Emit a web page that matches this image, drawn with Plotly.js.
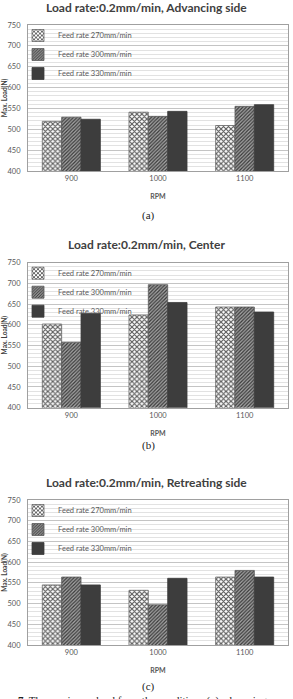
<!DOCTYPE html>
<html>
<head>
<meta charset="utf-8">
<script src="https://cdn.plot.ly/plotly-3.0.1.min.js"></script>
<style>
  html, body { margin: 0; padding: 0; background: #ffffff; }
  #chart { width: 293px; height: 699px; }
</style>
</head>
<body>
<div id="chart"></div>
<script>
// Spindle speeds on the x axis
const rpm = ['900', '1000', '1100'];

// Feed-rate series names
const seriesNames = ['Feed rate 270mm/min', 'Feed rate 300mm/min', 'Feed rate 330mm/min'];

// Maximum load (N), advancing side
const advFeed270 = [519, 541, 509];
const advFeed300 = [529, 531, 555];
const advFeed330 = [524, 543, 559];

// Maximum load (N), center
const cenFeed270 = [602, 624, 643];
const cenFeed300 = [558, 697, 643];
const cenFeed330 = [628, 654, 631];

// Maximum load (N), retreating side
const retFeed270 = [545, 532, 564];
const retFeed300 = [564, 497, 580];
const retFeed330 = [545, 561, 564];

const panelTitles = [
  'Load rate:0.2mm/min, Advancing side',
  'Load rate:0.2mm/min, Center',
  'Load rate:0.2mm/min, Retreating side'
];
const panelCaptions = ['(a)', '(b)', '(c)'];

const yTicks = [400, 450, 500, 550, 600, 650, 700, 750];

const W = 293, H = 699;
const py = px => 1 - px / H;

// plot-area pixel extents of each panel (top, bottom) and caption line
const panels = [
  { top: 25,    bottom: 171,   capY: 215 },
  { top: 262.7, bottom: 407.7, capY: 445 },
  { top: 500,   bottom: 645,   capY: 686 }
];

const panelData = [
  [advFeed270, advFeed300, advFeed330],
  [cenFeed270, cenFeed300, cenFeed330],
  [retFeed270, retFeed300, retFeed330]
];

// fill styles per feed rate
const markerStyles = [
  { color: '#ffffff', line: { color: '#6a6a6a', width: 0.8 },
    pattern: { shape: 'x', fgcolor: '#5c5c5c', bgcolor: '#ffffff', size: 3.5, solidity: 0.55 } },
  { color: '#8a8a8a', line: { color: '#5a5a5a', width: 0.8 },
    pattern: { shape: '/', fgcolor: '#3a3a3a', bgcolor: '#a8a8a8', size: 2.5, solidity: 0.5 } },
  { color: '#3d3d3d', line: { color: '#3d3d3d', width: 0.8 } }
];

const fontSans = 'Lato, "Open Sans", sans-serif';
const traces = [];
const layout = {
  width: W, height: H,
  margin: { l: 0, r: 0, t: 0, b: 0 },
  paper_bgcolor: '#ffffff',
  plot_bgcolor: '#ffffff',
  barmode: 'group',
  bargap: 0.33,
  bargroupgap: 0,
  showlegend: true,
  font: { family: fontSans, color: '#595959', size: 8 },
  annotations: []
};

panels.forEach((p, i) => {
  const n = i === 0 ? '' : String(i + 1);
  const legendName = 'legend' + n;
  panelData[i].forEach((vals, s) => {
    traces.push({
      type: 'bar',
      x: rpm,
      y: vals,
      name: seriesNames[s],
      xaxis: 'x' + n,
      yaxis: 'y' + n,
      legend: legendName,
      marker: markerStyles[s],
      hoverinfo: 'x+y+name'
    });
  });

  layout['xaxis' + n] = {
    domain: [28 / W, 288 / W],
    anchor: 'y' + n,
    type: 'category',
    showgrid: false,
    showline: true, linecolor: '#a0a0a0', linewidth: 1, mirror: true,
    ticks: '', tickfont: { size: 7.5, color: '#595959', family: fontSans },
    title: { text: '<b>RPM</b>', font: { size: 7, color: '#595959', family: fontSans }, standoff: 12 },
    fixedrange: true
  };
  layout['yaxis' + n] = {
    domain: [py(p.bottom), py(p.top)],
    anchor: 'x' + n,
    range: [400, 750],
    tickvals: yTicks,
    showgrid: true, gridcolor: '#c4c4c4', gridwidth: 1,
    minor: { dtick: 10, showgrid: true, gridcolor: '#e2e2e2', gridwidth: 1 },
    showline: true, linecolor: '#a0a0a0', linewidth: 1, mirror: true,
    zeroline: false,
    ticks: '', ticklabelstandoff: 5,
    tickfont: { size: 7.5, color: '#595959', family: fontSans },
    title: { text: '<b>Max. Load(N)</b>', font: { size: 6.5, color: '#404040', family: fontSans }, standoff: 0 },
    fixedrange: true
  };
  layout[legendName] = {
    x: 18 / W, xanchor: 'left',
    y: py(p.top - 4), yanchor: 'top',
    bgcolor: 'rgba(0,0,0,0)',
    font: { size: 7.5, color: '#595959', family: fontSans },
    itemwidth: 30,
    tracegroupgap: 0
  };

  layout.annotations.push({
    xref: 'paper', yref: 'paper', x: 0.5, y: py(p.top - 18),
    xanchor: 'center', yanchor: 'middle', showarrow: false,
    text: '<b>' + panelTitles[i] + '</b>',
    font: { size: 12, color: '#404040', family: fontSans }
  });
  layout.annotations.push({
    xref: 'paper', yref: 'paper', x: 148 / W, y: py(p.capY),
    xanchor: 'center', yanchor: 'middle', showarrow: false,
    text: panelCaptions[i],
    font: { size: 11, color: '#222222', family: '"Liberation Serif", "DejaVu Serif", serif' }
  });
});

// first line of the figure caption underneath
layout.annotations.push({
  xref: 'paper', yref: 'paper', x: 16 / W, y: py(692),
  xanchor: 'left', yanchor: 'top', showarrow: false,
  text: '<b>7.</b> The maximum load from the conditions (a) advancing',
  font: { size: 11, color: '#222222', family: '"Liberation Serif", "DejaVu Serif", serif' }
});

Plotly.newPlot('chart', traces, layout, { displayModeBar: false, staticPlot: true });
</script>
</body>
</html>
